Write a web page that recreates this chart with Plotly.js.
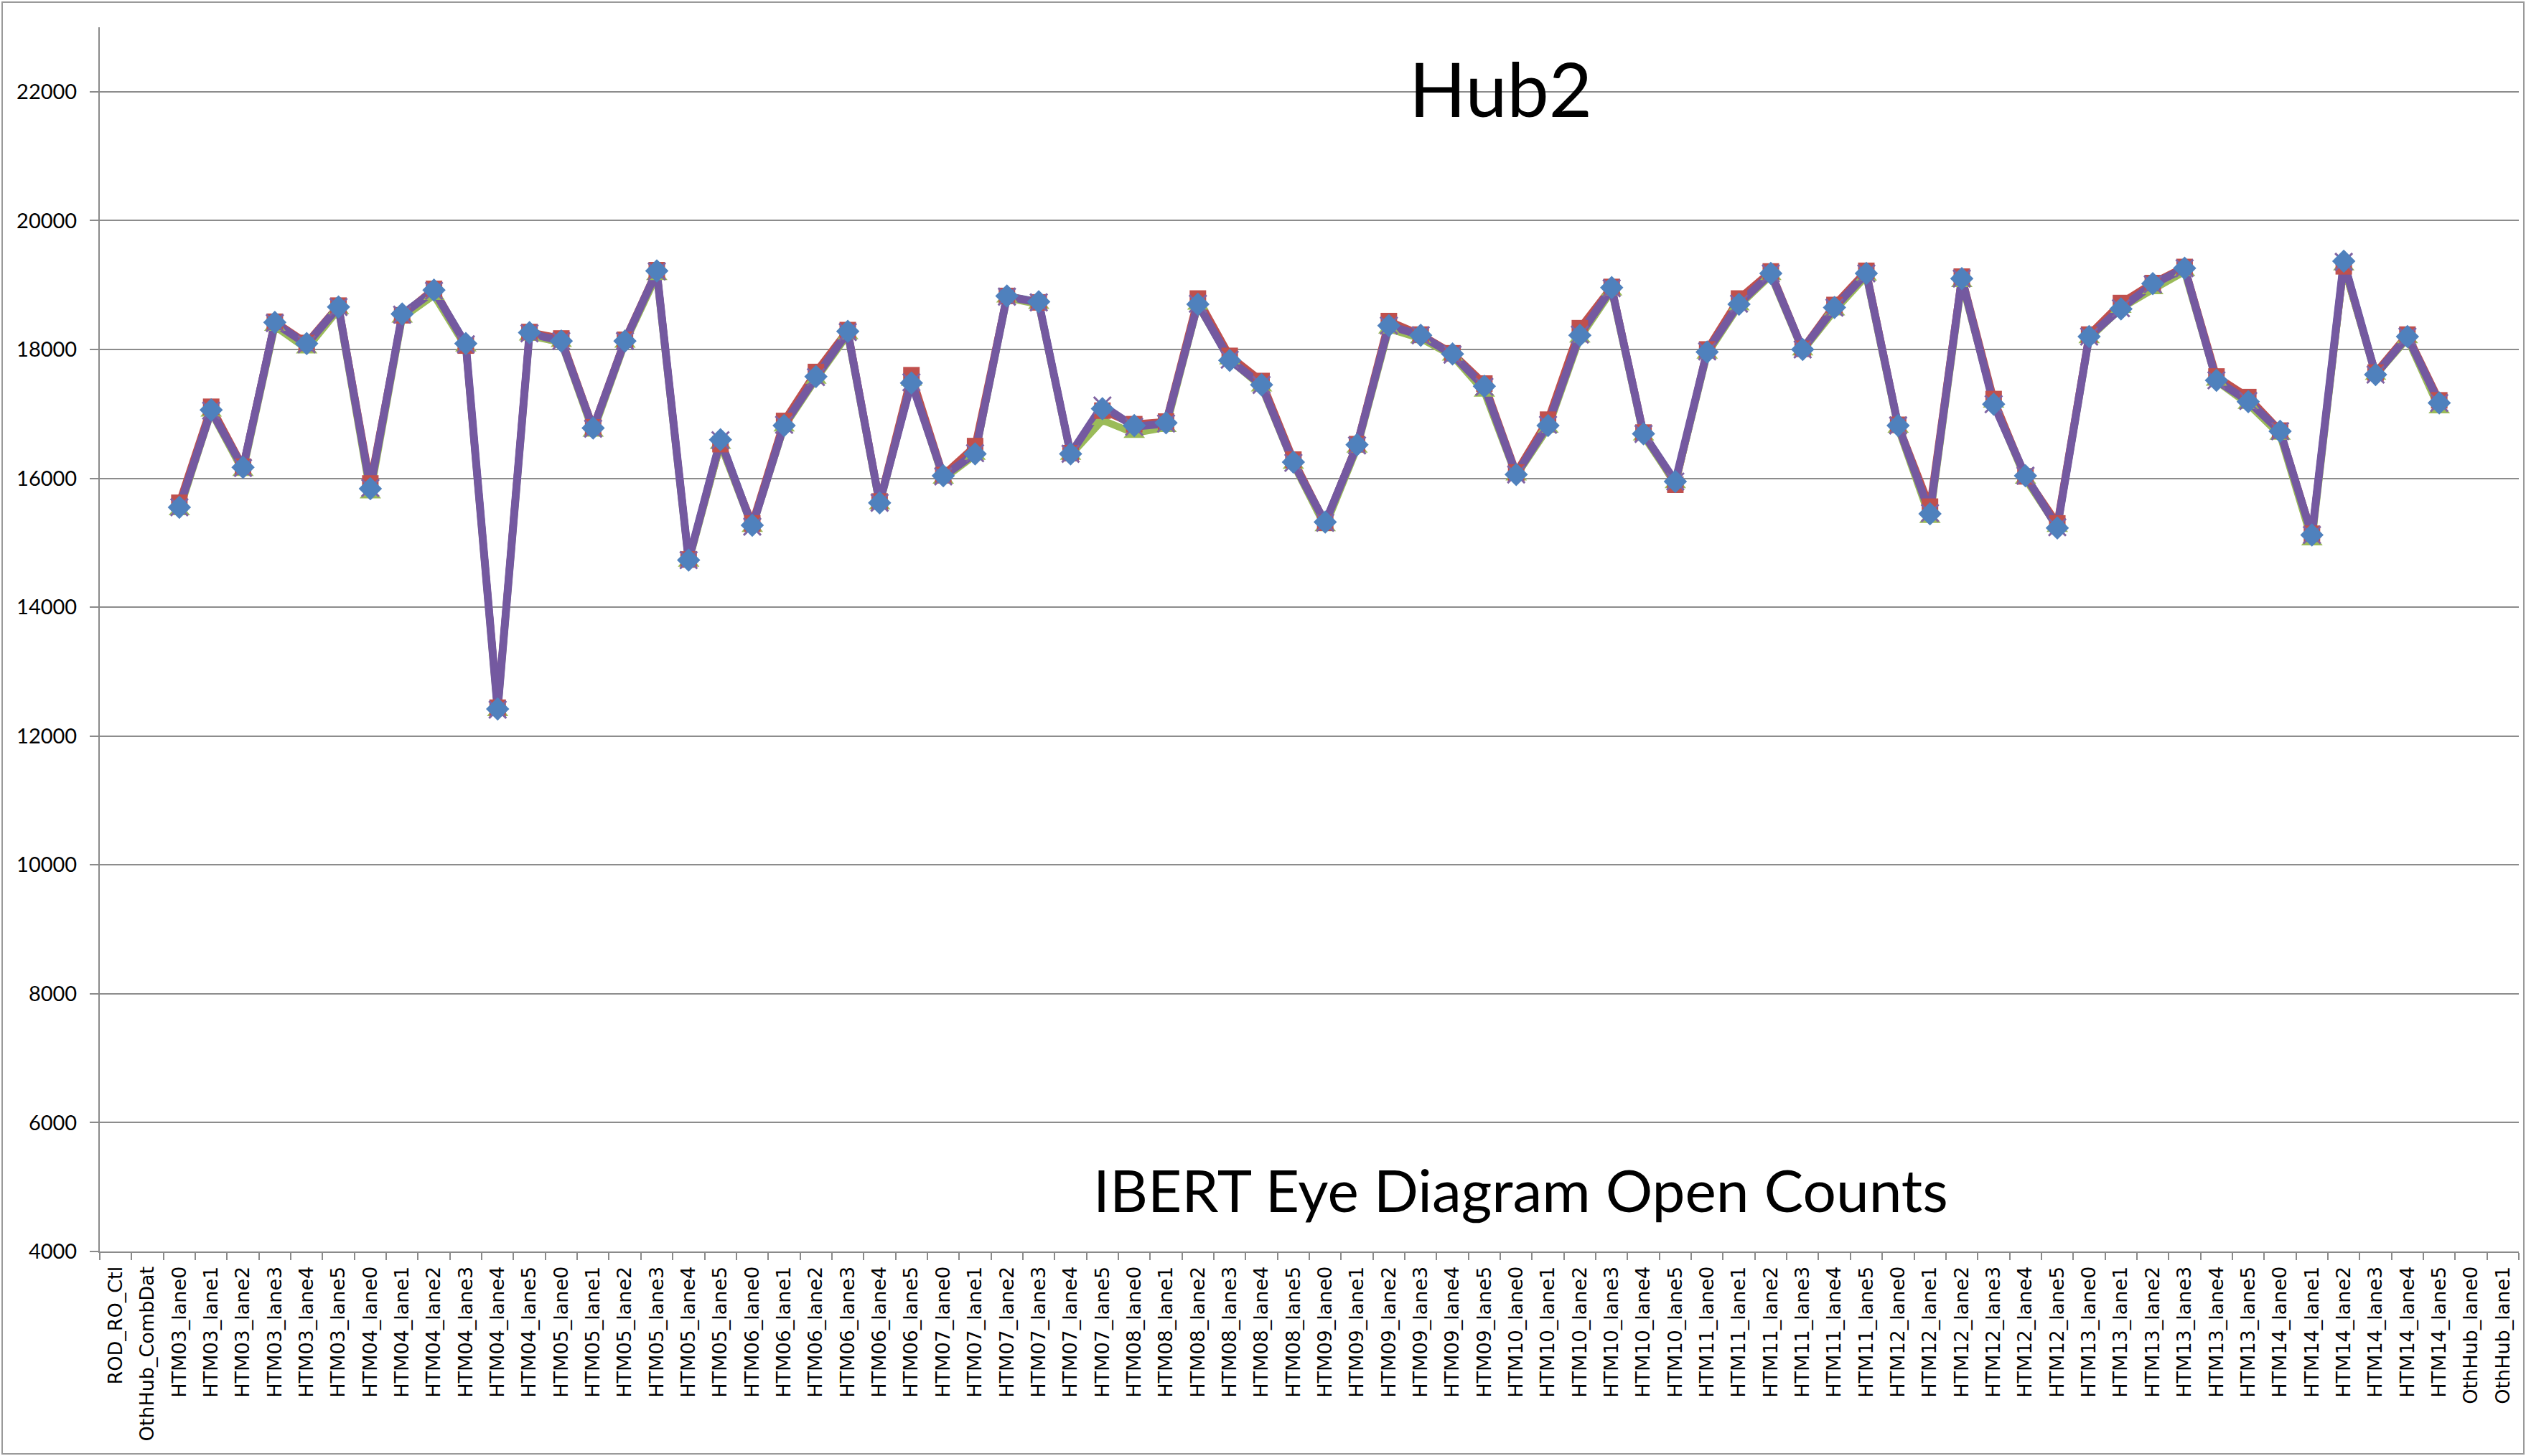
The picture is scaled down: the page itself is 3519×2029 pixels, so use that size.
<!DOCTYPE html>
<html>
<head>
<meta charset="utf-8">
<script src="https://cdn.plot.ly/plotly-3.0.1.min.js"></script>
<style>html,body{margin:0;padding:0;background:#fff;}#chart{width:3519px;height:2029px;}</style>
</head>
<body>
<div id="chart"></div>
<script>
// Categories (x axis)
const categories = [
  "ROD_RO_Ctl","OthHub_CombDat",
  "HTM03_lane0","HTM03_lane1","HTM03_lane2","HTM03_lane3","HTM03_lane4","HTM03_lane5",
  "HTM04_lane0","HTM04_lane1","HTM04_lane2","HTM04_lane3","HTM04_lane4","HTM04_lane5",
  "HTM05_lane0","HTM05_lane1","HTM05_lane2","HTM05_lane3","HTM05_lane4","HTM05_lane5",
  "HTM06_lane0","HTM06_lane1","HTM06_lane2","HTM06_lane3","HTM06_lane4","HTM06_lane5",
  "HTM07_lane0","HTM07_lane1","HTM07_lane2","HTM07_lane3","HTM07_lane4","HTM07_lane5",
  "HTM08_lane0","HTM08_lane1","HTM08_lane2","HTM08_lane3","HTM08_lane4","HTM08_lane5",
  "HTM09_lane0","HTM09_lane1","HTM09_lane2","HTM09_lane3","HTM09_lane4","HTM09_lane5",
  "HTM10_lane0","HTM10_lane1","HTM10_lane2","HTM10_lane3","HTM10_lane4","HTM10_lane5",
  "HTM11_lane0","HTM11_lane1","HTM11_lane2","HTM11_lane3","HTM11_lane4","HTM11_lane5",
  "HTM12_lane0","HTM12_lane1","HTM12_lane2","HTM12_lane3","HTM12_lane4","HTM12_lane5",
  "HTM13_lane0","HTM13_lane1","HTM13_lane2","HTM13_lane3","HTM13_lane4","HTM13_lane5",
  "HTM14_lane0","HTM14_lane1","HTM14_lane2","HTM14_lane3","HTM14_lane4","HTM14_lane5",
  "OthHub_lane0","OthHub_lane1"
];

// Series values (open counts), null = no data
const seriesBlue = [null,null,
  15550,17060,16170,18420,18090,18660,
  15840,18550,18920,18090,12420,18260,
  18130,16780,18130,19220,14730,16600,
  15270,16820,17580,18280,15620,17480,
  16040,16380,18830,18740,16380,17080,
  16820,16860,18700,17830,17450,16250,
  15320,16520,18370,18220,17930,17430,
  16060,16820,18220,18960,16690,15950,
  17960,18700,19180,18000,18650,19180,
  16820,15450,19100,17150,16040,15230,
  18200,18630,19020,19260,17520,17190,
  16730,15120,19370,17610,18200,17170,
  null,null];

const seriesRed = [null,null,
  15620,17110,16180,18430,18100,18680,
  15920,18530,18940,18060,12440,18270,
  18170,16790,18150,19230,14740,16530,
  15300,16890,17650,18300,15640,17600,
  16050,16500,18830,18730,16390,17050,
  16840,16880,18790,17900,17510,16290,
  15310,16530,18440,18230,17940,17470,
  16090,16910,18330,18970,16710,15900,
  18000,18790,19210,18010,18690,19220,
  16830,15560,19130,17230,16030,15300,
  18230,18720,19030,19280,17580,17260,
  16740,15140,19290,17640,18230,17210,
  null,null];

const seriesGreen = [null,null,
  15500,17030,16110,18360,18010,18620,
  15760,18490,18840,18040,12380,18210,
  18110,16720,18100,19150,14700,16530,
  15240,16800,17540,18230,15590,17510,
  15990,16360,18800,18700,16360,16900,
  16700,16790,18690,17840,17420,16220,
  15250,16470,18320,18170,17900,17340,
  16040,16780,18180,18910,16660,15920,
  17930,18680,19150,17980,18600,19140,
  16780,15380,19040,17170,15990,15240,
  18170,18640,18930,19210,17510,17150,
  16670,15030,19300,17600,18170,17080,
  null,null];

const seriesPurple = [null,null,
  15550,17050,16160,18410,18080,18660,
  15850,18540,18910,18080,12410,18250,
  18130,16770,18130,19210,14730,16590,
  15250,16830,17570,18270,15620,17490,
  16030,16390,18820,18730,16380,17130,
  16800,16850,18710,17840,17450,16240,
  15310,16510,18370,18220,17920,17420,
  16060,16830,18230,18950,16690,15950,
  17970,18710,19180,18000,18650,19180,
  16820,15460,19100,17150,16040,15240,
  18200,18640,19010,19260,17520,17200,
  16730,15120,19360,17610,18200,17170,
  null,null];

const yTickVals = [4000,6000,8000,10000,12000,14000,16000,18000,20000,22000];

const W = 3519, H = 2029;
const M = {l:139, r:10, t:38, b:285};
const PW = W - M.l - M.r, PH = H - M.t - M.b;
const px = x => (x - M.l) / PW;
const py = y => 1 - (y - M.t) / PH;

function lineTrace(y, color, w){
  return {type:'scatter', mode:'lines', x:categories, y:y, showlegend:false,
    hoverinfo:'skip', line:{color:color, width:w}, connectgaps:false};
}
function markerTrace(y, symbol, size, color, extra){
  const m = Object.assign({symbol:symbol, size:size, color:color, line:{width:0}}, extra||{});
  return {type:'scatter', mode:'markers', x:categories, y:y, showlegend:false, marker:m};
}

const traces = [
  lineTrace(seriesBlue, '#4F81BD', 10),
  lineTrace(seriesRed, '#C0504D', 10),
  lineTrace(seriesGreen, '#9BBB59', 10),
  lineTrace(seriesPurple, '#7459A0', 11),
  markerTrace(seriesGreen, 'triangle-up', 26, '#9BBB59'),
  markerTrace(seriesRed, 'square', 23, '#C0504D'),
  markerTrace(seriesPurple, 'x-thin', 24, '#8064A2', {line:{width:3, color:'#8064A2'}}),
  markerTrace(seriesBlue, 'diamond', 25, '#4F81BD')
];

const layout = {
  width: W, height: H,
  margin: M,
  paper_bgcolor:'#ffffff', plot_bgcolor:'#ffffff',
  showlegend:false,
  xaxis:{
    type:'category', categoryorder:'array', categoryarray:categories,
    range:[-0.5, categories.length-0.5],
    tickangle:-90, tickfont:{family:'DejaVu Sans', size:27, color:'#000'},
    ticks:'outside', tickson:'boundaries', ticklen:10, tickwidth:2, tickcolor:'#8a8a8a',
    showline:true, linecolor:'#8a8a8a', linewidth:2,
    showgrid:false, zeroline:false, ticklabelstandoff:8, automargin:false
  },
  yaxis:{
    range:[4000,23000], tickmode:'array', tickvals:yTickVals,
    ticktext: yTickVals.map(String),
    tickfont:{family:'Lato', size:29, color:'#000'},
    ticks:'outside', ticklen:12, tickwidth:2, tickcolor:'#8a8a8a',
    showline:true, linecolor:'#8a8a8a', linewidth:2,
    showgrid:true, gridcolor:'#8c8c8c', gridwidth:2, zeroline:false,
    ticklabelstandoff:12, automargin:false
  },
  annotations:[
    {text:'Hub2', xref:'paper', yref:'paper', x:px(2090), y:py(123),
     xanchor:'center', yanchor:'middle', showarrow:false,
     font:{family:'Lato', size:104, color:'#000'}},
    {text:'IBERT Eye Diagram Open Counts', xref:'paper', yref:'paper', x:px(2118), y:py(1657),
     xanchor:'center', yanchor:'middle', showarrow:false,
     font:{family:'Lato', size:82, color:'#000'}}
  ],
  shapes:[
    {type:'rect', xref:'paper', yref:'paper', x0:px(3), x1:px(3516), y0:py(2026), y1:py(3),
     line:{color:'#9a9a9a', width:2}, fillcolor:'rgba(0,0,0,0)', layer:'below'}
  ]
};

Plotly.newPlot('chart', traces, layout, {staticPlot:true, displayModeBar:false});
</script>
</body>
</html>
